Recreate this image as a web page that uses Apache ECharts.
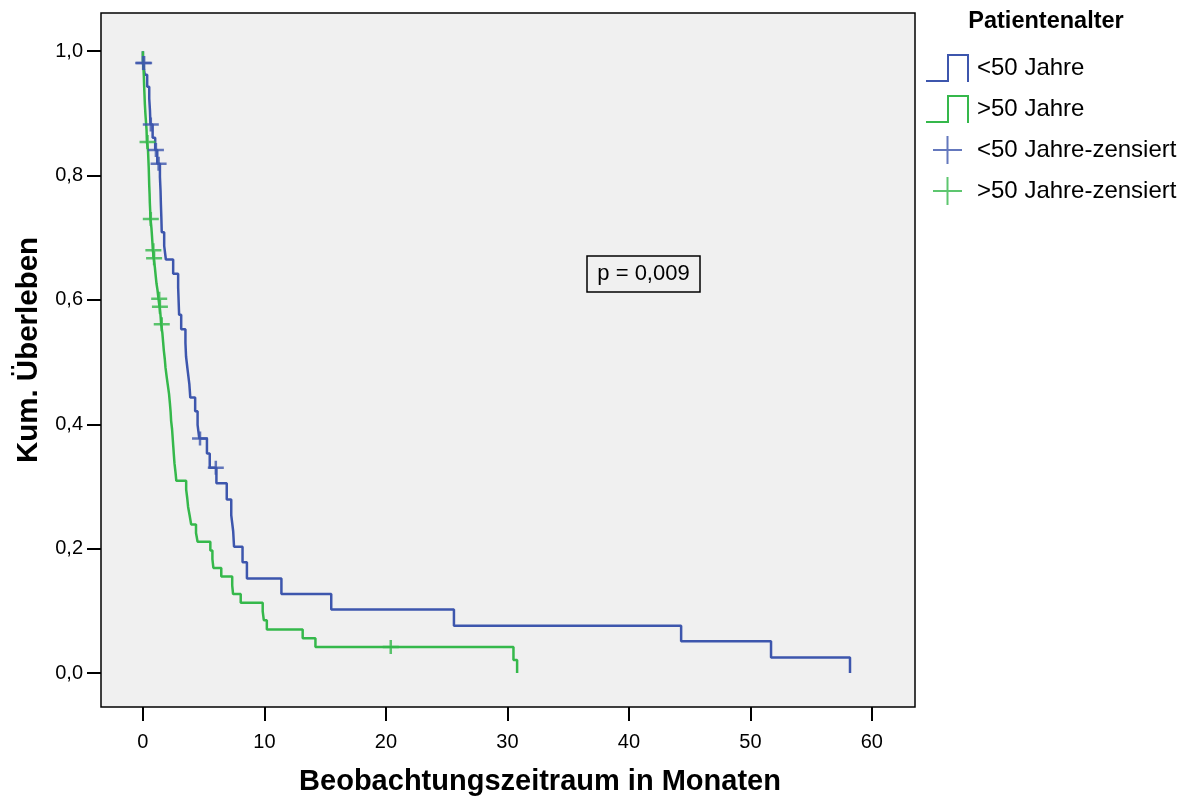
<!DOCTYPE html>
<html>
<head>
<meta charset="utf-8">
<script src="https://cdn.jsdelivr.net/npm/echarts@6/dist/echarts.min.js"></script>
<style>
  html, body { margin: 0; padding: 0; background: #ffffff; }
  #chart { width: 1189px; height: 801px; }
</style>
</head>
<body>
<div id="chart"></div>
<script>
// Kaplan-Meier estimate by age group: event times (months) and survival after each event
const youngTimes = [0, 0.0, 0.16, 0.35, 0.52, 0.58, 0.62, 0.80, 1.01, 1.18, 1.40, 1.45, 1.48, 1.52, 1.55,
  1.75, 1.89, 2.49, 2.90, 2.94, 2.98, 3.15, 3.50, 3.55, 3.68, 3.82, 3.90, 4.30, 4.50, 4.64,
  5.27, 5.50, 6.05, 6.90, 7.27, 7.43, 7.50, 8.20, 8.56, 11.4, 15.5, 25.6, 44.3, 51.7, 58.2];
const youngSurv = [1.0, 0.981, 0.962, 0.943, 0.924, 0.905, 0.882, 0.861, 0.841, 0.819, 0.798, 0.776, 0.754, 0.731, 0.709,
  0.687, 0.665, 0.642, 0.620, 0.598, 0.576, 0.553, 0.531, 0.509, 0.487, 0.465, 0.443, 0.421, 0.399, 0.377,
  0.353, 0.330, 0.305, 0.279, 0.254, 0.228, 0.203, 0.178, 0.152, 0.127, 0.102, 0.076, 0.051, 0.025, 0.0];

const oldTimes = [0, 0.0, 0.05, 0.08, 0.10, 0.13, 0.16, 0.20, 0.25, 0.30, 0.33,
  0.42, 0.45, 0.48, 0.50, 0.52, 0.55, 0.57, 0.60, 0.62,
  0.70, 0.75, 0.82, 0.89, 0.98, 1.05, 1.12, 1.20, 1.28, 1.37, 1.45, 1.50,
  1.60, 1.66, 1.72, 1.80, 1.86, 1.95, 2.05, 2.15, 2.22, 2.28, 2.32, 2.40, 2.45, 2.50, 2.55,
  2.60, 2.68, 2.75, 3.56, 3.65, 3.72, 3.85, 3.97, 4.37, 4.50, 5.55, 5.72, 5.80, 6.45,
  7.35, 7.42, 8.05, 9.86, 9.95, 10.2, 13.15, 14.2, 30.5, 30.8];
const oldSurv = [1.0, 0.986, 0.972, 0.958, 0.944, 0.930, 0.915, 0.901, 0.887, 0.873, 0.854,
  0.840, 0.826, 0.812, 0.798, 0.784, 0.770, 0.756, 0.743, 0.730,
  0.716, 0.702, 0.680, 0.667, 0.653, 0.639, 0.626, 0.616, 0.602, 0.589, 0.575, 0.561,
  0.547, 0.533, 0.519, 0.505, 0.491, 0.477, 0.463, 0.449, 0.434, 0.420, 0.406, 0.392, 0.378, 0.364, 0.350,
  0.337, 0.323, 0.309, 0.295, 0.281, 0.267, 0.253, 0.239, 0.225, 0.211, 0.197, 0.183, 0.169, 0.155,
  0.141, 0.127, 0.113, 0.099, 0.085, 0.070, 0.056, 0.042, 0.021, 0.0];

// Censored observations
const youngCensTimes = [0.02, 0.10, 0.65, 1.07, 1.29, 4.70, 6.00];
const youngCensSurv = [0.981, 0.981, 0.882, 0.841, 0.819, 0.377, 0.330];
const oldCensTimes = [0.38, 0.65, 0.86, 0.92, 1.34, 1.40, 1.55, 20.4];
const oldCensSurv = [0.854, 0.730, 0.680, 0.667, 0.602, 0.589, 0.561, 0.042];

const xTicks = [0, 10, 20, 30, 40, 50, 60];
const yTicks = [0, 0.2, 0.4, 0.6, 0.8, 1.0];

const groupNames = ['<50 Jahre', '>50 Jahre', '<50 Jahre-zensiert', '>50 Jahre-zensiert'];
const legendTitle = 'Patientenalter';
const pValueText = 'p = 0,009';

const BLUE = '#3d56ad';
const GREEN = '#35b84b';
const FONT = '"Liberation Sans", Arial, Helvetica, sans-serif';

const zip = (a, b) => a.map((v, i) => [v, b[i]]);

// Legend glyphs: a step outline for the curves, a plus for censored cases
const stepIcon = 'path://M0,26 L21,26 L21,0 L43,0 L43,28 L41,28 L41,2 L23,2 L23,28 L0,28 Z';
const plusIcon = 'path://M0,13 L13.5,13 L13.5,0 L15.5,0 L15.5,13 L29,13 L29,15 L15.5,15 L15.5,28 L13.5,28 L13.5,15 L0,15 Z';
const plusMark = 'path://M0,5.75 L6.75,5.75 L6.75,0 L9.25,0 L9.25,5.75 L16,5.75 L16,8.25 L9.25,8.25 L9.25,14 L6.75,14 L6.75,8.25 L0,8.25 Z';

const chart = echarts.init(document.getElementById('chart'), null, { renderer: 'canvas' });

chart.setOption({
  animation: false,
  backgroundColor: '#ffffff',
  textStyle: { fontFamily: FONT },
  grid: {
    left: 101, right: 274, top: 13, bottom: 89,
    show: true,
    backgroundColor: '#f0f0f0',
    borderColor: '#000000',
    borderWidth: 1.5
  },
  xAxis: {
    type: 'value',
    min: -3.45,
    max: 63.55,
    name: 'Beobachtungszeitraum in Monaten',
    nameLocation: 'middle',
    nameGap: 60,
    nameTextStyle: { fontSize: 29, fontWeight: 'bold', color: '#000', fontFamily: FONT, padding: [0, 0, 0, 64] },
    axisLine: { show: false, onZero: false },
    axisTick: { show: true, inside: false, length: 14, customValues: xTicks, lineStyle: { color: '#000', width: 2 } },
    axisLabel: { customValues: xTicks, margin: 25, fontSize: 20, color: '#000', fontFamily: FONT },
    splitLine: { show: false }
  },
  yAxis: {
    type: 'value',
    min: -0.0547,
    max: 1.0615,
    name: 'Kum. Überleben',
    nameLocation: 'middle',
    nameGap: 52,
    nameTextStyle: { fontSize: 29.5, fontWeight: 'bold', color: '#000', fontFamily: FONT, padding: [0, 0, 0, 20] },
    axisLine: { show: false, onZero: false },
    axisTick: { show: true, inside: false, length: 14, customValues: yTicks, lineStyle: { color: '#000', width: 2 } },
    axisLabel: {
      customValues: yTicks, margin: 18, fontSize: 20, color: '#000', fontFamily: FONT,
      formatter: v => v.toFixed(1).replace('.', ',')
    },
    splitLine: { show: false }
  },
  legend: {
    orient: 'vertical',
    left: 926,
    top: 54,
    padding: 0,
    itemWidth: 43,
    itemHeight: 28,
    itemGap: 13,
    selectedMode: false,
    itemStyle: { borderWidth: 0 },
    textStyle: { fontSize: 24, color: '#000', fontFamily: FONT, padding: [4, 0, 0, 3] },
    data: [
      { name: groupNames[0], icon: stepIcon },
      { name: groupNames[1], icon: stepIcon },
      { name: groupNames[2], icon: plusIcon },
      { name: groupNames[3], icon: plusIcon }
    ]
  },
  graphic: [
    {
      type: 'text',
      x: 1046, y: 22,
      style: {
        text: legendTitle, font: 'bold 23.5px ' + FONT, fill: '#000',
        align: 'center', verticalAlign: 'middle'
      }
    },
    {
      type: 'group',
      x: 587, y: 256,
      children: [
        { type: 'rect', shape: { x: 0, y: 0, width: 113, height: 36 }, style: { fill: '#f0f0f0', stroke: '#000', lineWidth: 1.5 } },
        { type: 'text', x: 56.5, y: 18, style: { text: pValueText, font: '22px ' + FONT, fill: '#000', align: 'center', verticalAlign: 'middle' } }
      ]
    }
  ],
  series: [
    {
      name: groupNames[0],
      type: 'line',
      step: 'end',
      symbol: 'none',
      color: BLUE,
      lineStyle: { color: BLUE, width: 2.5 },
      data: zip(youngTimes, youngSurv),
      z: 2
    },
    {
      name: groupNames[1],
      type: 'line',
      step: 'end',
      symbol: 'none',
      color: GREEN,
      lineStyle: { color: GREEN, width: 2.5 },
      data: zip(oldTimes, oldSurv),
      z: 3
    },
    {
      name: groupNames[2],
      type: 'scatter',
      symbol: plusMark,
      symbolSize: [16, 14],
      color: BLUE,
      itemStyle: { color: BLUE },
      data: zip(youngCensTimes, youngCensSurv),
      z: 5
    },
    {
      name: groupNames[3],
      type: 'scatter',
      symbol: plusMark,
      symbolSize: [16, 14],
      color: GREEN,
      itemStyle: { color: GREEN },
      data: zip(oldCensTimes, oldCensSurv),
      z: 4
    }
  ]
});
</script>
</body>
</html>
